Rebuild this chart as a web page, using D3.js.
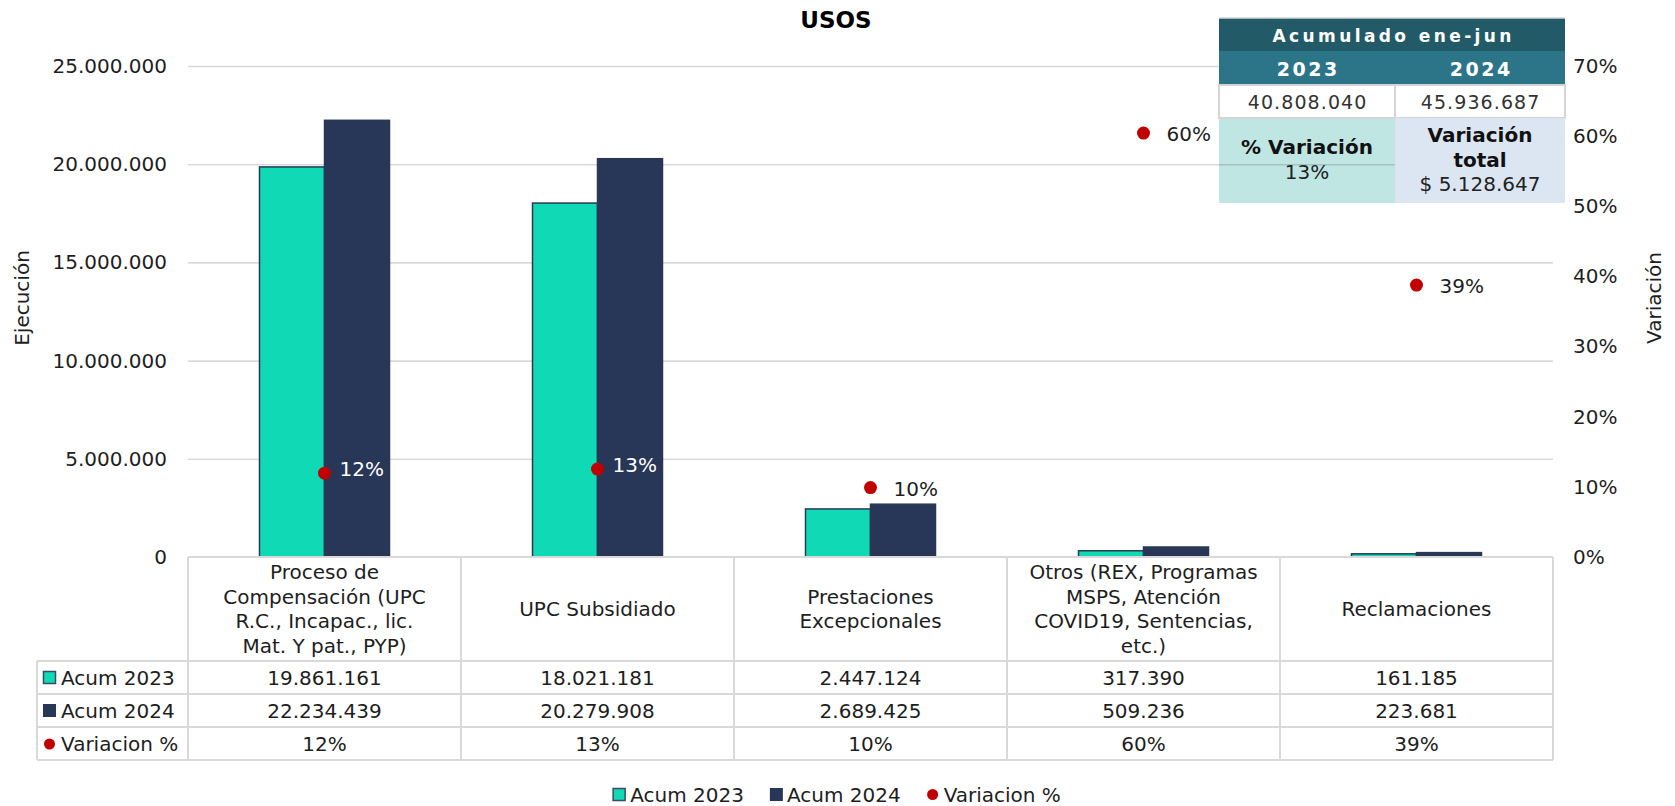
<!DOCTYPE html>
<html><head><meta charset="utf-8">
<script src="https://cdn.jsdelivr.net/npm/d3@7"></script>
<style>
body{margin:0;background:#fff;}
svg{display:block;font-family:"DejaVu Sans",Verdana,sans-serif;}
</style></head><body>
<svg id="chart" width="1675" height="806"></svg>
<script>
// ---------------- DATA ----------------
const categoryKeys = ["proceso", "upc", "prestaciones", "otros", "reclamaciones"];
const categoryLines = [
  ["Proceso de", "Compensación (UPC", "R.C., Incapac., lic.", "Mat. Y pat., PYP)"],
  ["UPC Subsidiado"],
  ["Prestaciones", "Excepcionales"],
  ["Otros (REX, Programas", "MSPS, Atención", "COVID19, Sentencias,", "etc.)"],
  ["Reclamaciones"]
];
const acum2023 = [19861161, 18021181, 2447124, 317390, 161185];
const acum2024 = [22234439, 20279908, 2689425, 509236, 223681];
const variacion = [0.1195, 0.1253, 0.0990, 0.6044, 0.3877];
const seriesNames = ["Acum 2023", "Acum 2024", "Variacion %"];
const leftTicks = [0, 5000000, 10000000, 15000000, 20000000, 25000000];
const rightTicks = [0, 0.1, 0.2, 0.3, 0.4, 0.5, 0.6, 0.7];
const chartTitle = "USOS";
const leftTitle = "Ejecución";
const rightTitle = "Variación";
const summaryHeader = "Acumulado ene-jun";
const summaryYears = ["2023", "2024"];
const summaryTotals = [40808040, 45936687];
const summaryPctLabel = "% Variación";
const summaryPct = 0.13;
const summaryTotalLabel = ["Variación", "total"];
const summaryTotalValue = 5128647;

// ---------------- STYLE / LAYOUT ----------------
const C2023 = "#0fdab5", C2024 = "#283657", CDOT = "#c00000", GRID = "#d9d9d9", TEXT = "#1e1e1e";
const FONT = "DejaVu Sans";
const plot = {left: 188, right: 1553, top: 66, bottom: 557};
const table = {left: 37, catBottom: 661, rowH: 33};
const inset = {x0: 1219, xm: 1395, x1: 1565, y0: 18, y1: 51, y2: 85, y3: 118, y4: 203};

const loc = d3.formatLocale({decimal: ",", thousands: ".", grouping: [3], currency: ["$ ", ""]});
const fmtNum = loc.format(",d");
const fmtPct = loc.format(".0%");

const svg = d3.select("#chart");

const x = d3.scaleBand().domain(categoryKeys).range([plot.left, plot.right]).paddingInner(0).paddingOuter(0);
const xi = d3.scaleBand().domain(["a2023", "a2024"]).range([0, x.bandwidth()]).paddingInner(0).paddingOuter(1.1);
const y = d3.scaleLinear().domain([0, 25000000]).range([plot.bottom, plot.top]);
const yR = d3.scaleLinear().domain([0, 0.7]).range([plot.bottom, plot.top]);

// inset bottom-left cell (behind gridlines)
svg.append("rect").attr("x", inset.x0).attr("y", inset.y3)
  .attr("width", inset.xm - inset.x0).attr("height", inset.y4 - inset.y3).attr("fill", "#c0e6e4");

// left axis + gridlines
const gLeft = svg.append("g").attr("transform", `translate(${plot.left},0)`)
  .call(d3.axisLeft(y).tickValues(leftTicks).tickFormat(fmtNum)
    .tickSize(-(plot.right - plot.left)).tickPadding(21));
gLeft.attr("font-family", FONT).attr("font-size", 20);
gLeft.select(".domain").remove();
gLeft.selectAll(".tick line").attr("stroke", "#000").attr("stroke-opacity", 0.15).attr("stroke-width", 1.6);
gLeft.selectAll(".tick").filter(d => d === 0).select("line").remove();
gLeft.selectAll(".tick text").attr("fill", TEXT);

// right axis
const gRight = svg.append("g").attr("transform", `translate(${plot.right},0)`)
  .call(d3.axisRight(yR).tickValues(rightTicks).tickFormat(fmtPct).tickSize(0).tickPadding(20));
gRight.attr("font-family", FONT).attr("font-size", 20);
gRight.select(".domain").remove();
gRight.selectAll(".tick text").attr("fill", TEXT);

// ---------------- INSET SUMMARY TABLE ----------------
const gi = svg.append("g");
gi.append("rect").attr("x", inset.x0).attr("y", inset.y0).attr("width", inset.x1 - inset.x0)
  .attr("height", inset.y1 - inset.y0).attr("fill", "#225a68");
gi.append("rect").attr("x", inset.x0).attr("y", inset.y1).attr("width", inset.x1 - inset.x0)
  .attr("height", inset.y2 - inset.y1).attr("fill", "#2c7589");
gi.append("rect").attr("x", inset.x0).attr("y", inset.y2).attr("width", inset.xm - inset.x0)
  .attr("height", inset.y3 - inset.y2).attr("fill", "#fff").attr("stroke", "#d4d4d4").attr("stroke-width", 2);
gi.append("rect").attr("x", inset.xm).attr("y", inset.y2).attr("width", inset.x1 - inset.xm)
  .attr("height", inset.y3 - inset.y2).attr("fill", "#fff").attr("stroke", "#d4d4d4").attr("stroke-width", 2);
gi.append("rect").attr("x", inset.xm).attr("y", inset.y3).attr("width", inset.x1 - inset.xm)
  .attr("height", inset.y4 - inset.y3).attr("fill", "#dce6f2");
gi.append("line").attr("x1", inset.x0).attr("x2", inset.x1).attr("y1", inset.y0).attr("y2", inset.y0)
  .attr("stroke", "#d4d4d4").attr("stroke-width", 1.5);

gi.append("text").attr("x", (inset.x0 + inset.x1) / 2 + 1.7).attr("y", (inset.y0 + inset.y1) / 2 + 1)
  .attr("text-anchor", "middle").attr("dominant-baseline", "central")
  .attr("font-family", FONT).attr("font-weight", "bold").attr("font-size", 17)
  .attr("letter-spacing", 3.4).attr("fill", "#fff").text(summaryHeader);
const colC = [(inset.x0 + inset.xm) / 2, (inset.xm + inset.x1) / 2];
summaryYears.forEach((yr, i) => {
  gi.append("text").attr("x", colC[i] + 1.2).attr("y", (inset.y1 + inset.y2) / 2 + 1)
    .attr("text-anchor", "middle").attr("dominant-baseline", "central")
    .attr("font-family", FONT).attr("font-weight", "bold").attr("font-size", 19)
    .attr("letter-spacing", 2.5).attr("fill", "#fff").text(yr);
  gi.append("text").attr("x", colC[i] + 0.6).attr("y", (inset.y2 + inset.y3) / 2)
    .attr("text-anchor", "middle").attr("dominant-baseline", "central")
    .attr("font-family", FONT).attr("font-size", 19)
    .attr("letter-spacing", 1.1).attr("fill", "#333").text(fmtNum(summaryTotals[i]));
});
gi.append("text").attr("x", colC[0]).attr("y", 147).attr("text-anchor", "middle").attr("dominant-baseline", "central")
  .attr("font-family", FONT).attr("font-weight", "bold").attr("font-size", 20).attr("fill", "#111").text(summaryPctLabel);
gi.append("text").attr("x", colC[0]).attr("y", 172).attr("text-anchor", "middle").attr("dominant-baseline", "central")
  .attr("font-family", FONT).attr("font-size", 20).attr("fill", "#222").text(fmtPct(summaryPct));
summaryTotalLabel.forEach((t, i) => {
  gi.append("text").attr("x", colC[1]).attr("y", 135 + i * 25).attr("text-anchor", "middle").attr("dominant-baseline", "central")
    .attr("font-family", FONT).attr("font-weight", "bold").attr("font-size", 20).attr("fill", "#111").text(t);
});
gi.append("text").attr("x", colC[1]).attr("y", 184).attr("text-anchor", "middle").attr("dominant-baseline", "central")
  .attr("font-family", FONT).attr("font-size", 20).attr("fill", "#222").text("$ " + fmtNum(summaryTotalValue));

// ---------------- BARS ----------------
const barData = categoryKeys.flatMap((k, i) => [
  {k, s: "a2023", v: acum2023[i]},
  {k, s: "a2024", v: acum2024[i]}
]);
svg.append("g").selectAll("rect").data(barData).join("rect")
  .attr("x", d => x(d.k) + xi(d.s))
  .attr("y", d => y(d.v))
  .attr("width", xi.bandwidth())
  .attr("height", d => y(0) - y(d.v))
  .attr("fill", d => d.s === "a2023" ? C2023 : C2024)
  .attr("stroke", "#2a3857").attr("stroke-width", 1.5);

// ---------------- DOTS ----------------
const dotData = categoryKeys.map((k, i) => ({k, v: variacion[i], inside: yR(variacion[i]) > y(acum2024[i])}));
const gd = svg.append("g");
gd.selectAll("circle").data(dotData).join("circle")
  .attr("cx", d => x(d.k) + x.bandwidth() / 2)
  .attr("cy", d => yR(d.v))
  .attr("r", 6.5).attr("fill", CDOT);
gd.selectAll("text").data(dotData).join("text")
  .attr("x", d => x(d.k) + x.bandwidth() / 2 + (d.inside ? 15 : 23))
  .attr("y", d => yR(d.v) + (d.inside ? -4 : 1))
  .attr("dominant-baseline", "central")
  .attr("font-family", FONT).attr("font-size", 20)
  .attr("fill", d => d.inside ? "#fff" : TEXT)
  .text(d => fmtPct(d.v));

// ---------------- DATA TABLE ----------------
const gt = svg.append("g");
const rowTops = [0, 1, 2, 3].map(i => table.catBottom + i * table.rowH);
const colEdges = categoryKeys.map(k => x(k)).concat([plot.right]);
const lastRow = rowTops[3];
gt.append("line").attr("x1", plot.left).attr("x2", plot.right).attr("y1", plot.bottom).attr("y2", plot.bottom);
rowTops.forEach(ry => gt.append("line").attr("x1", table.left).attr("x2", plot.right).attr("y1", ry).attr("y2", ry));
gt.append("line").attr("x1", table.left).attr("x2", table.left).attr("y1", table.catBottom).attr("y2", lastRow);
colEdges.forEach(cx => gt.append("line").attr("x1", cx).attr("x2", cx).attr("y1", plot.bottom).attr("y2", lastRow));
gt.selectAll("line").attr("stroke", GRID).attr("stroke-width", 2);

const lineH = 24.4;
const catMid = (plot.bottom + table.catBottom) / 2;
categoryKeys.forEach((k, i) => {
  const lines = categoryLines[i];
  const t = gt.append("text").attr("text-anchor", "middle").attr("font-family", FONT)
    .attr("font-size", 20).attr("fill", TEXT);
  lines.forEach((ln, j) => {
    t.append("tspan").attr("x", x(k) + x.bandwidth() / 2)
      .attr("y", catMid + (j - (lines.length - 1) / 2) * lineH)
      .attr("dominant-baseline", "central").text(ln);
  });
});
const rowSeries = [acum2023.map(fmtNum), acum2024.map(fmtNum), variacion.map(fmtPct)];
rowSeries.forEach((vals, r) => {
  const cy = rowTops[r] + table.rowH / 2 + 0.5;
  categoryKeys.forEach((k, i) => {
    gt.append("text").attr("x", x(k) + x.bandwidth() / 2).attr("y", cy)
      .attr("text-anchor", "middle").attr("dominant-baseline", "central")
      .attr("font-family", FONT).attr("font-size", 20).attr("fill", TEXT).text(vals[i]);
  });
  gt.append("text").attr("x", 61).attr("y", cy).attr("dominant-baseline", "central")
    .attr("font-family", FONT).attr("font-size", 20).attr("fill", TEXT).text(seriesNames[r]);
  if (r === 0) gt.append("rect").attr("x", 43.5).attr("y", cy - 6.5).attr("width", 12).attr("height", 12)
    .attr("fill", C2023).attr("stroke", "#3a4a66").attr("stroke-width", 1.5);
  if (r === 1) gt.append("rect").attr("x", 43).attr("y", cy - 7).attr("width", 13).attr("height", 13).attr("fill", C2024);
  if (r === 2) gt.append("circle").attr("cx", 49.5).attr("cy", cy).attr("r", 5.5).attr("fill", CDOT);
});

// ---------------- TITLES ----------------
svg.append("text").attr("x", 836).attr("y", 20).attr("text-anchor", "middle").attr("dominant-baseline", "central")
  .attr("font-family", FONT).attr("font-weight", "bold").attr("font-size", 23).attr("fill", "#000").text(chartTitle);
svg.append("text").attr("transform", "translate(22,298) rotate(-90)").attr("text-anchor", "middle")
  .attr("dominant-baseline", "central").attr("font-family", FONT).attr("font-size", 20).attr("fill", TEXT).text(leftTitle);
svg.append("text").attr("transform", "translate(1654,298) rotate(-90)").attr("text-anchor", "middle")
  .attr("dominant-baseline", "central").attr("font-family", FONT).attr("font-size", 20).attr("fill", TEXT).text(rightTitle);

// ---------------- LEGEND ----------------
const gl = svg.append("g");
const legY = 794.5;
const widths = seriesNames.map(n => {
  const t = gl.append("text").attr("font-family", FONT).attr("font-size", 20).text(n);
  const w = t.node().getComputedTextLength(); t.remove(); return w;
});
const symW = 17, itemGap = 26;
const total = widths.reduce((a, w) => a + symW + w, 0) + itemGap * (widths.length - 1);
let lx = 837 - total / 2;
seriesNames.forEach((n, i) => {
  if (i === 0) gl.append("rect").attr("x", lx).attr("y", legY - 6).attr("width", 12).attr("height", 12)
    .attr("fill", C2023).attr("stroke", "#3a4a66").attr("stroke-width", 1.5);
  if (i === 1) gl.append("rect").attr("x", lx).attr("y", legY - 6.5).attr("width", 13).attr("height", 13).attr("fill", C2024);
  if (i === 2) gl.append("circle").attr("cx", lx + 6).attr("cy", legY).attr("r", 5.5).attr("fill", CDOT);
  gl.append("text").attr("x", lx + symW).attr("y", legY).attr("dominant-baseline", "central")
    .attr("font-family", FONT).attr("font-size", 20).attr("fill", TEXT).text(n);
  lx += symW + widths[i] + itemGap;
});
</script>
</body></html>
